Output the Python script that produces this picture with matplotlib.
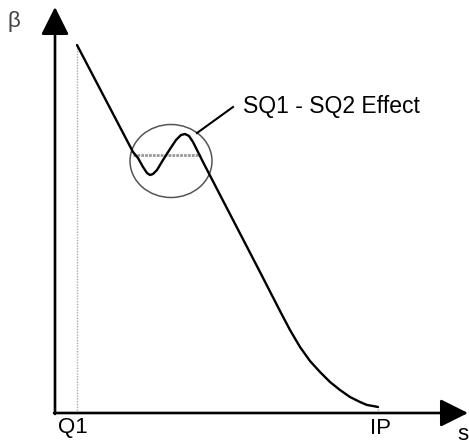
import matplotlib
matplotlib.use("Agg")
import matplotlib.pyplot as plt
from matplotlib.patches import Ellipse

plt.rcParams['font.family'] = ['Liberation Sans', 'DejaVu Sans']

# beta function along s (arbitrary units)
s_vals = [22, 78, 83, 88, 92, 95, 98, 102, 108, 115, 121, 126, 130, 134, 138,
          143, 148, 177, 205, 225, 235, 245, 255, 265, 275, 285, 295, 305,
          312, 318, 323]
beta_vals = [368, 261, 255, 246, 240, 238, 239, 243, 253, 264, 273, 278, 279,
             277, 271, 261, 251, 195, 141, 102, 83, 66, 52, 41, 31, 23, 16,
             11, 8, 7, 6]

q1_s = 22
ip_s = 323
level_s = [78, 145]
level_beta = 258
effect_label = "SQ1 - SQ2 Effect"

fig = plt.figure(figsize=(4.69, 4.45), dpi=100)
ax = fig.add_axes([0, 0, 1, 1])
ax.set_xlim(-55, 414)
ax.set_ylim(-32, 413)
ax.axis('off')

# axes with arrows
arrow = dict(arrowstyle='-|>,head_length=0.9,head_width=0.45', lw=1.9,
             color='black', mutation_scale=19, shrinkA=0, shrinkB=0)
ax.annotate('', xy=(0, 406), xytext=(0, -1), arrowprops=arrow,
            annotation_clip=False)
ax.annotate('', xy=(413, 0), xytext=(-1, 0), arrowprops=arrow,
            annotation_clip=False)

# Q1 / IP marker lines
ax.plot([q1_s, q1_s], [0, beta_vals[0]], color='#aaaaaa', lw=1,
        linestyle=(0, (1, 1)))
ax.plot([ip_s, ip_s], [0, beta_vals[-1]], color='#aaaaaa', lw=1,
        linestyle=(0, (1, 1)))

# mean level through the bump
ax.plot(level_s, [level_beta, level_beta], color='#999999', lw=2,
        linestyle=(0, (1, 0.4)))

ax.plot(s_vals, beta_vals, color='black', lw=1.7, solid_capstyle='round',
        solid_joinstyle='round')

ax.add_patch(Ellipse((116, 252), 82, 73, fill=False, edgecolor='#555555',
                     lw=1.1))
ax.plot([142, 178], [280, 306], color='black', lw=1.5)
ax.text(188, 307, effect_label, fontsize=16.5, ha='left', va='center')

ax.text(-41, 391, 'β', fontsize=16, ha='center', va='center', color='#444444')
ax.text(q1_s - 4, -15, 'Q1', fontsize=16, ha='center', va='center')
ax.text(ip_s + 3, -15, 'IP', fontsize=16, ha='center', va='center')
ax.text(408, -22, 's', fontsize=16, ha='center', va='center')

fig.savefig('out.png', dpi=100)
